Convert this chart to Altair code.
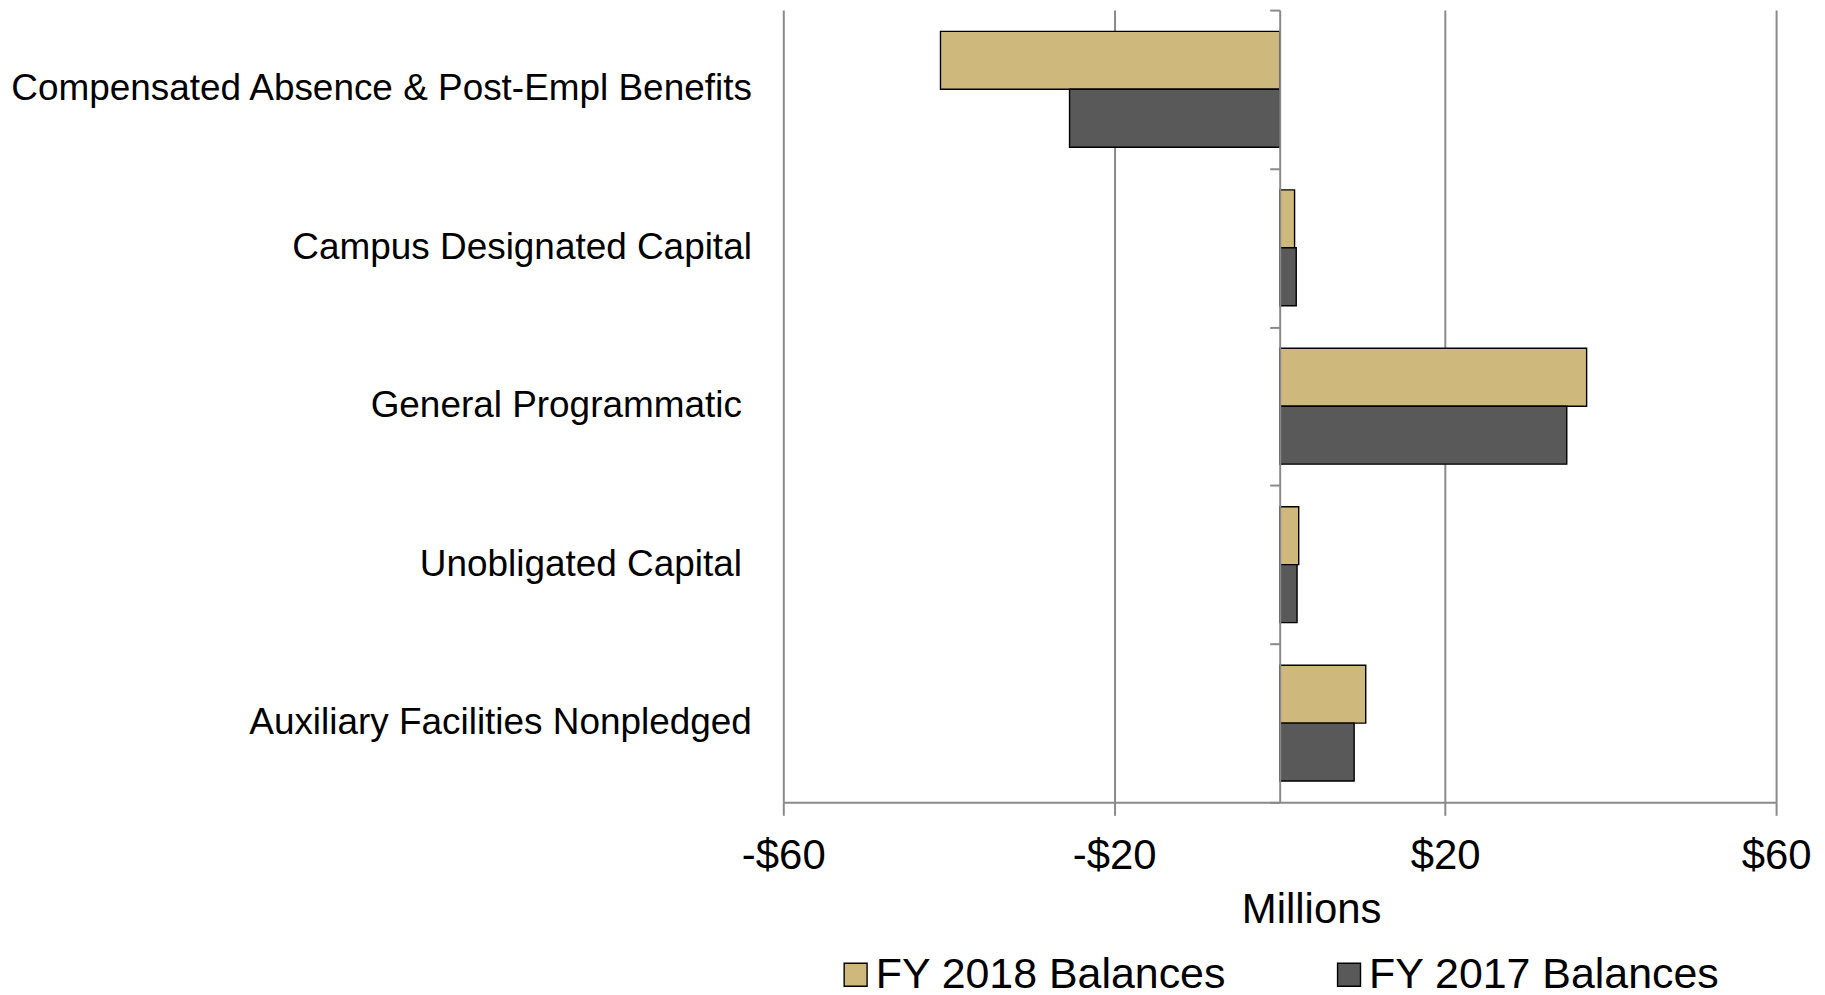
import altair as alt
import pandas as pd

categories = [
    "Compensated Absence & Post-Empl Benefits",
    "Campus Designated Capital",
    "General Programmatic ",
    "Unobligated Capital ",
    "Auxiliary Facilities Nonpledged",
]
series = ["FY 2018 Balances", "FY 2017 Balances"]
fy2018 = [-41.0, 1.8, 37.1, 2.3, 10.4]
fy2017 = [-25.4, 2.0, 34.7, 2.1, 9.0]
x_ticks = [-60, -20, 20, 60]
colors = ["#CFB87C", "#595959"]

rows = []
for c, a, b in zip(categories, fy2018, fy2017):
    rows.append({"category": c, "series": series[0], "value": a})
    rows.append({"category": c, "series": series[1], "value": b})
df = pd.DataFrame(rows)

FONT = "Liberation Sans"
W, H = 995, 794
GRID = "#8A8A8A"

y_scale = alt.Scale(domain=categories, paddingInner=0, paddingOuter=0)

bars = alt.Chart(df).mark_bar(stroke="black", strokeWidth=1.4).encode(
    x=alt.X(
        "value:Q",
        scale=alt.Scale(domain=[-60, 60], nice=False),
        axis=alt.Axis(
            values=x_ticks, title="Millions", grid=True, gridColor=GRID, gridWidth=2,
            domainColor=GRID, domainWidth=2, tickColor=GRID, tickWidth=2, tickSize=13,
            labelFontSize=42, labelFont=FONT, labelColor="black", labelPadding=20,
            labelFlush=False,
            labelExpr="datum.value < 0 ? '-$' + abs(datum.value) : '$' + datum.value",
            titleFontSize=42, titleFont=FONT, titleFontWeight="normal", titleColor="black",
            titlePadding=13, titleX=529,
        ),
    ),
    y=alt.Y(
        "category:N", sort=categories, scale=y_scale,
        axis=alt.Axis(
            title=None, domain=False, ticks=False, grid=False, labelFontSize=37,
            labelFont=FONT, labelColor="black", labelLimit=1000,
            labelPadding={
                "condition": {"test": "slice(datum.value, -1) === ' '", "value": 42},
                "value": 32,
            },
        ),
    ),
    yOffset=alt.YOffset(
        "series:N", sort=series, scale=alt.Scale(paddingInner=0, paddingOuter=0.3675)
    ),
    color=alt.Color(
        "series:N", sort=series, scale=alt.Scale(domain=series, range=colors),
        legend=alt.Legend(
            title=None, orient="none", legendX=51, legendY=945, direction="horizontal",
            columns=2, symbolType="square", symbolSize=529, symbolStrokeColor="black",
            symbolStrokeWidth=1.4, symbolOpacity=1, labelFontSize=43, labelFont=FONT,
            labelColor="black", labelOffset=alt.ExprRef("-1.4"), columnPadding=101.5,
            labelLimit=1000, padding=0,
        ),
    ),
)

zero = alt.Chart(df).mark_point(opacity=0).encode(
    y=alt.Y(
        "category:N", sort=categories, scale=y_scale,
        axis=alt.Axis(
            title=None, labels=False, orient="left", offset=-W / 2, domain=True,
            domainColor=GRID, domainWidth=2, ticks=True, tickColor=GRID, tickWidth=2,
            tickSize=10, tickBand="extent", grid=False, zindex=1,
        ),
    )
)

chart = (
    alt.layer(bars, zero)
    .resolve_scale(y="shared")
    .resolve_axis(y="independent")
    .properties(width=W, height=H, padding={"left": 0, "top": 0, "right": 5, "bottom": 5})
    .configure_view(stroke=None)
)

chart.save("out.html", embed_options={"renderer": "svg", "actions": False})
